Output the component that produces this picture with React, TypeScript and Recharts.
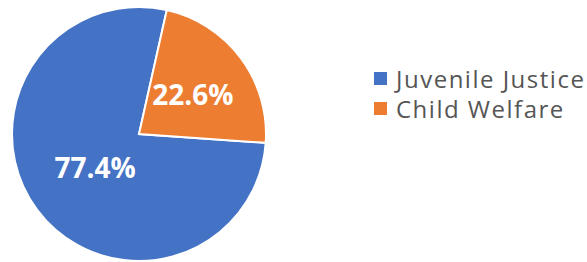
import { PieChart, Pie, Cell, Legend } from "recharts"

const categories = ["Juvenile Justice", "Child Welfare"]
const shares = [77.4, 22.6]
const colors = ["#4472C4", "#ED7D31"]

const data = categories.map((name, i) => ({ name, value: shares[i] }))

const RADIAN = Math.PI / 180

// labels sit roughly halfway out, like Excel's best fit
const renderLabel = (props: any) => {
  const { cx, cy, midAngle, outerRadius, index } = props
  const r = outerRadius * (index === 0 ? 0.43 : 0.53)
  const x = cx + r * Math.cos(-midAngle * RADIAN)
  const y = cy + r * Math.sin(-midAngle * RADIAN)
  return (
    <text
      x={x}
      y={y}
      fill="#ffffff"
      textAnchor="middle"
      dominantBaseline="central"
      fontSize={28}
      fontWeight="bold"
      fontFamily="'Open Sans', sans-serif"
    >
      {`${data[index].value.toFixed(1)}%`}
    </text>
  )
}

const renderLegend = () => (
  <div style={{ fontFamily: "'Open Sans', sans-serif", fontSize: 24, letterSpacing: 1.5, color: "#555555" }}>
    {data.map((d, i) => (
      <div key={d.name} style={{ display: "flex", alignItems: "center", height: 30, whiteSpace: "nowrap" }}>
        <span style={{ width: 13, height: 13, background: colors[i], display: "inline-block", marginRight: 9, flexShrink: 0 }} />
        <span>{d.name}</span>
      </div>
    ))}
  </div>
)

export default function App() {
  return (
    <div style={{ position: "absolute", left: 0, top: 0, background: "#fff" }}>
      <PieChart width={587} height={262} margin={{ top: 0, right: 0, bottom: 0, left: 0 }}>
        <Pie
          data={data}
          dataKey="value"
          nameKey="name"
          cx={139}
          cy={134}
          outerRadius={127}
          startAngle={-4}
          endAngle={-364}
          stroke="#ffffff"
          strokeWidth={2}
          label={renderLabel}
          labelLine={false}
          isAnimationActive={false}
        >
          {data.map((d, i) => (
            <Cell key={d.name} fill={colors[i]} />
          ))}
        </Pie>
        <Legend
          content={renderLegend}
          wrapperStyle={{ left: 374, top: 63, width: 213 }}
        />
      </PieChart>
    </div>
  )
}
